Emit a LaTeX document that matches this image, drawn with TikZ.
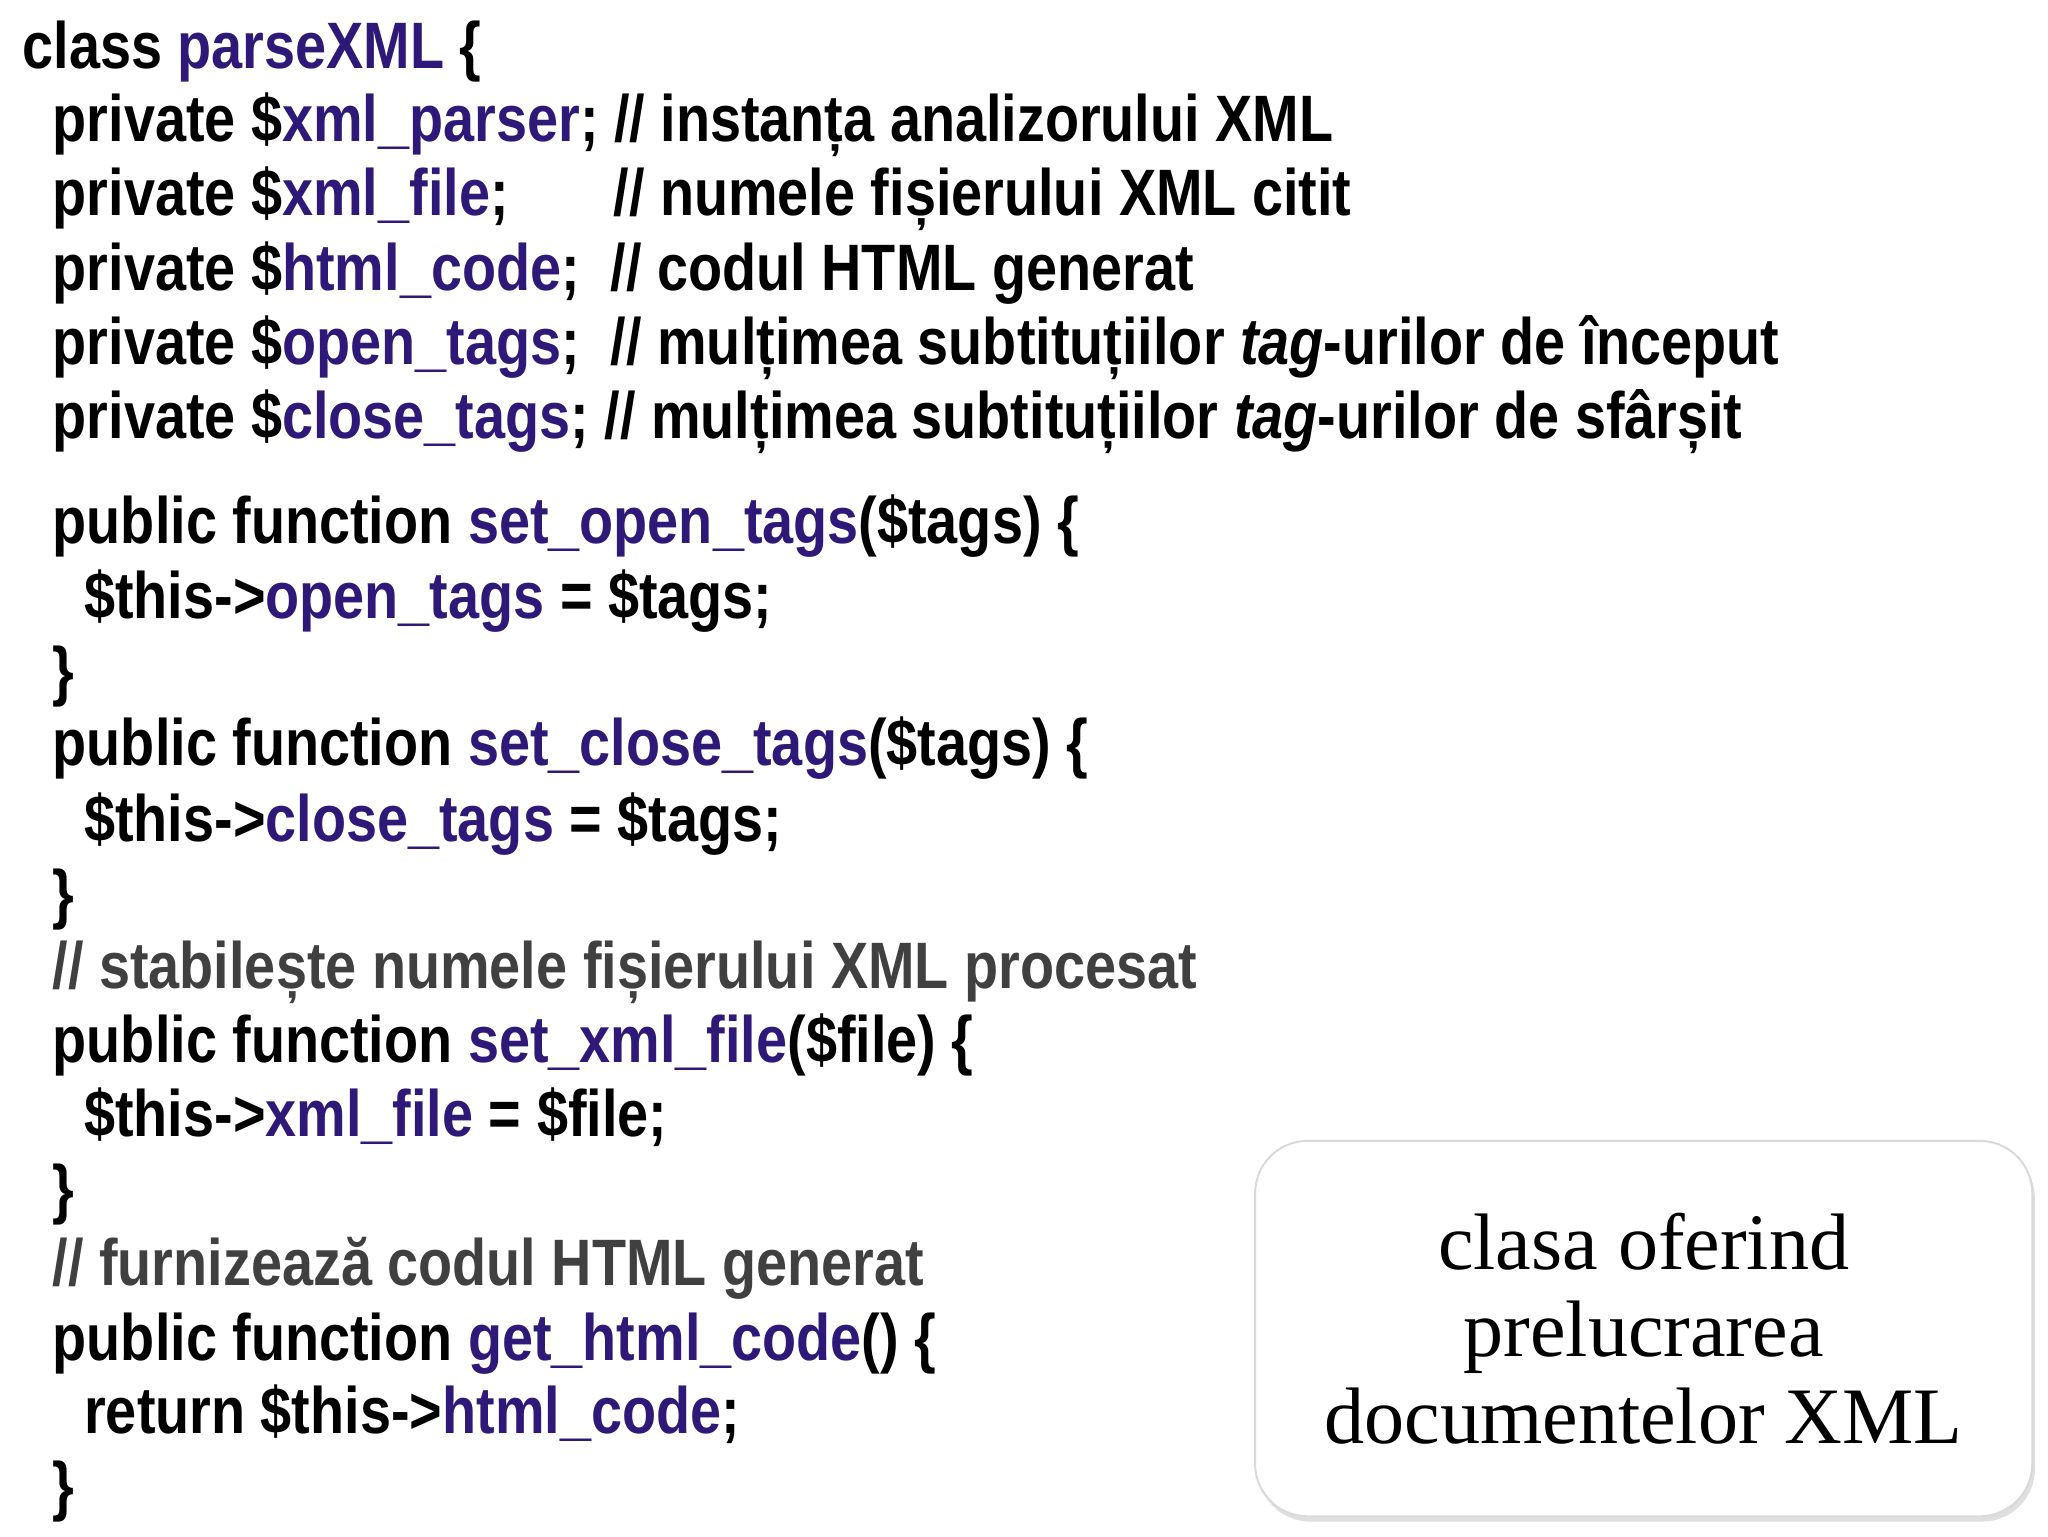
\documentclass[tikz,border=0pt]{standalone}
\usepackage{fontspec}
\setmainfont{Liberation Sans}[FakeStretch=0.85]
\newfontfamily\boxfont{Liberation Serif}
\usetikzlibrary{shadows}
\definecolor{idc}{HTML}{2E1878}
\definecolor{cmc}{HTML}{404040}
\newcommand{\id}[1]{\textcolor{idc}{#1}}
\begin{document}
\begin{tikzpicture}[x=1pt,y=-1pt,
  code/.style={anchor=base west,inner sep=0pt,font=\fontsize{50}{50}\selectfont\bfseries},
  note/.style={draw=black!15,line width=1.5pt,rounded corners=40pt,fill=white,
    drop shadow={shadow xshift=2pt,shadow yshift=-4pt,opacity=0.25},
    minimum width=592pt,minimum height=286pt,align=center,
    font=\boxfont\fontsize{61}{66}\selectfont}]
\useasboundingbox[fill=white] (0,0) rectangle (1560,1170);
\node[code] (l1) at (17,52) {class \id{parseXML} \{};
\node[code] (l2) at (40,108) {private \$\id{xml\_parser}; // instanța analizorului XML};
\node[code] (l3) at (40,164) {private \$\id{xml\_file};\hspace{80pt}// numele fișierului XML citit};
\node[code] (l4) at (40,221) {private \$\id{html\_code};~~// codul HTML generat};
\node[code] (l5) at (40,278) {private \$\id{open\_tags};~~// mulțimea subtituțiilor \textit{tag}-urilor de început};
\node[code] (l6) at (40,334) {private \$\id{close\_tags}; // mulțimea subtituțiilor \textit{tag}-urilor de sfârșit};
\node[code] (l7) at (40,414) {public function \id{set\_open\_tags}(\$tags) \{};
\node[code] (l8) at (64,471) {\$this->\id{open\_tags} = \$tags;};
\node[code] (l9) at (40,528) {\}};
\node[code] (l10) at (40,583) {public function \id{set\_close\_tags}(\$tags) \{};
\node[code] (l11) at (64,641) {\$this->\id{close\_tags} = \$tags;};
\node[code] (l12) at (40,698) {\}};
\node[code,text=cmc] (l13) at (40,753) {// stabilește numele fișierului XML procesat};
\node[code] (l14) at (40,809) {public function \id{set\_xml\_file}(\$file) \{};
\node[code] (l15) at (64,866) {\$this->\id{xml\_file} = \$file;};
\node[code] (l16) at (40,923) {\}};
\node[code,text=cmc] (l17) at (40,979) {// furnizează codul HTML generat};
\node[code] (l18) at (40,1036) {public function \id{get\_html\_code}() \{};
\node[code] (l19) at (64,1092) {return \$this->\id{html\_code};};
\node[code] (l20) at (40,1149) {\}};
\node[note] (box) at (1252,1012) {clasa oferind\\prelucrarea\\documentelor XML};
\end{tikzpicture}
\end{document}
